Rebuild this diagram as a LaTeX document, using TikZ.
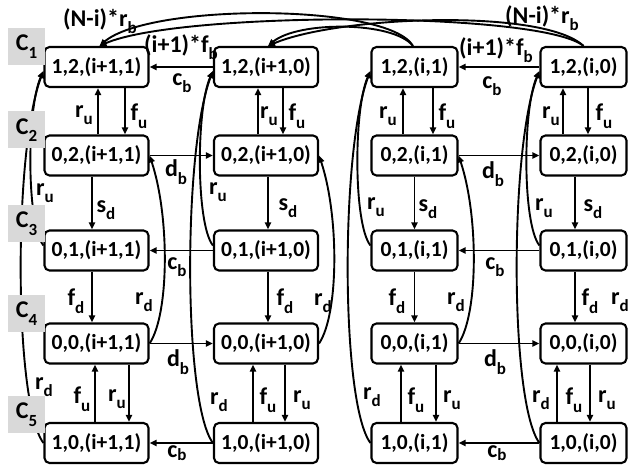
\documentclass[tikz,border=0pt]{standalone}
\usepackage{fontspec}
\setmainfont{Carlito}
\usetikzlibrary{arrows.meta,calc}
\definecolor{cgray}{HTML}{D9D9D9}
\newcommand\lsub[2]{#1\raisebox{-0.32em}{\fontsize{17}{17}\selectfont #2}}
\newcommand\lsubs[2]{#1\raisebox{-0.12em}{\fontsize{17}{17}\selectfont #2}}
\begin{document}
\begin{tikzpicture}[x=1pt,y=-1pt,
 st/.style={draw, line width=2.1pt, rounded corners=5pt, fill=white, minimum height=40pt, inner sep=0pt, font=\fontsize{21.5}{21.5}\selectfont\bfseries},
 wa/.style={st, minimum width=104pt},
 wb/.style={st, minimum width=86pt},
 arr/.style={line width=1.9pt, -{Triangle[length=7pt,width=6pt]}},
 lab/.style={inner sep=0pt, font=\fontsize{24}{24}\selectfont\bfseries},
 cbox/.style={fill=cgray, minimum size=37pt, inner sep=0pt, font=\fontsize{24}{24}\selectfont\bfseries}]
\useasboundingbox (0,0) rectangle (628,465);

% states
\node[wa] (a1) at (96.5,67) {1,2,(i+1,1)};
\node[wa] (a2) at (96.5,155.5) {0,2,(i+1,1)};
\node[wa] (a3) at (96.5,250.5) {0,1,(i+1,1)};
\node[wa] (a4) at (96.5,343.5) {0,0,(i+1,1)};
\node[wa] (a5) at (96.5,443) {1,0,(i+1,1)};
\node[wa] (b1) at (266,67) {1,2,(i+1,0)};
\node[wa] (b2) at (266,155.5) {0,2,(i+1,0)};
\node[wa] (b3) at (266,250.5) {0,1,(i+1,0)};
\node[wa] (b4) at (266,343.5) {0,0,(i+1,0)};
\node[wa] (b5) at (266,443) {1,0,(i+1,0)};
\node[wb] (c1) at (414.5,67) {1,2,(i,1)};
\node[wb] (c2) at (414.5,155.5) {0,2,(i,1)};
\node[wb] (c3) at (414.5,250.5) {0,1,(i,1)};
\node[wb] (c4) at (414.5,343.5) {0,0,(i,1)};
\node[wb] (c5) at (414.5,443) {1,0,(i,1)};
\node[wb] (d1) at (583.5,67) {1,2,(i,0)};
\node[wb] (d2) at (583.5,155.5) {0,2,(i,0)};
\node[wb] (d3) at (583.5,250.5) {0,1,(i,0)};
\node[wb] (d4) at (583.5,343.5) {0,0,(i,0)};
\node[wb] (d5) at (583.5,443) {1,0,(i,0)};

% vertical arrows, column a
\draw[arr] ([xshift=1.5pt]a2.north) -- ([xshift=1.5pt]a1.south);
\draw[arr] ([xshift=28.5pt]a1.south) -- ([xshift=28.5pt]a2.north);
\draw[arr] ([xshift=-4.5pt]a2.south) -- ([xshift=-4.5pt]a3.north);
\draw[arr] ([xshift=-4.5pt]a3.south) -- ([xshift=-4.5pt]a4.north);
\draw[arr] ([xshift=-1.5pt]a5.north) -- ([xshift=-1.5pt]a4.south);
\draw[arr] ([xshift=32.5pt]a4.south) -- ([xshift=32.5pt]a5.north);
% column b
\draw[arr] ([xshift=-8pt]b2.north) -- ([xshift=-8pt]b1.south);
\draw[arr] ([xshift=17pt]b1.south) -- ([xshift=17pt]b2.north);
\draw[arr] ([xshift=2pt]b2.south) -- ([xshift=2pt]b3.north);
\draw[arr] ([xshift=2pt]b3.south) -- ([xshift=2pt]b4.north);
\draw[arr] ([xshift=-13pt]b5.north) -- ([xshift=-13pt]b4.south);
\draw[arr] ([xshift=19pt]b4.south) -- ([xshift=19pt]b5.north);
% column c
\draw[arr] ([xshift=-11.5pt]c2.north) -- ([xshift=-11.5pt]c1.south);
\draw[arr] ([xshift=18.5pt]c1.south) -- ([xshift=18.5pt]c2.north);
\draw[arr] (c2.south) -- (c3.north);
\draw[arr] (c3.south) -- (c4.north);
\draw[arr] ([xshift=-13.5pt]c5.north) -- ([xshift=-13.5pt]c4.south);
\draw[arr] ([xshift=21.5pt]c4.south) -- ([xshift=21.5pt]c5.north);
% column d
\draw[arr] ([xshift=-20.5pt]d2.north) -- ([xshift=-20.5pt]d1.south);
\draw[arr] ([xshift=4.5pt]d1.south) -- ([xshift=4.5pt]d2.north);
\draw[arr] ([xshift=-8.5pt]d2.south) -- ([xshift=-8.5pt]d3.north);
\draw[arr] ([xshift=-8.5pt]d3.south) -- ([xshift=-8.5pt]d4.north);
\draw[arr] ([xshift=-26.5pt]d5.north) -- ([xshift=-26.5pt]d4.south);
\draw[arr] ([xshift=6.5pt]d4.south) -- ([xshift=6.5pt]d5.north);

% horizontal arrows
\draw[arr] (b1.west) -- (a1.east);
\draw[arr] (a2.east) -- (b2.west);
\draw[arr] (b3.west) -- (a3.east);
\draw[arr] (a4.east) -- (b4.west);
\draw[arr] (b5.west) -- (a5.east);
\draw[arr] (d1.west) -- (c1.east);
\draw[arr] (c2.east) -- (d2.west);
\draw[arr] (d3.west) -- (c3.east);
\draw[arr] (c4.east) -- (d4.west);
\draw[arr] (d5.west) -- (c5.east);

% left curves (r_u, r_d) into row 1
\foreach \n in {a,b,c,d}{
  \draw[arr] ($(\n3.west)+(0,-5)$) .. controls +(-17,-21) and +(-17,38) .. ($(\n1.west)+(0,4)$);
  \draw[arr] (\n5.west) .. controls +(-30,-40) and +(-30,78) .. ($(\n1.west)+(0,4)$);
}
% right curves r_d
\foreach \n in {a,b,c}{
  \draw[arr] (\n4.east) .. controls +(20,-30) and +(20,60) .. (\n2.east);
}

% top arcs
\draw[arr] ($(c1.north)+(-1.5,0)$) .. controls +(-25,-43) and +(50,-43) .. ($(a1.north)+(3,0)$);
\draw[arr] (d1.north) .. controls +(-43,-35) and +(80,-35) .. ($(a1.north)+(3,0)$);
\draw[arr] ($(c1.north)+(-1.5,0)$) .. controls +(-20,-25) and +(30,-25) .. ($(b1.north)+(2,0)$);
\draw[arr] (d1.north) .. controls +(-40,-38) and +(70,-30) .. ($(b1.north)+(2,0)$);

% labels top
\node[lab] (l1) at (100,21) {(N-i)*\lsub{r}{b}};
\node[lab] (l2) at (542,18) {(N-i)*\lsub{r}{b}};
\node[lab] (l3) at (181,47) {(i+1)*\lsub{f}{b}};
\node[lab] (l4) at (496,50) {(i+1)*\lsub{f}{b}};
% horizontal labels
\node[lab] (h1) at (182,83) {\lsub{c}{b}};
\node[lab] (h2) at (176,172) {\lsub{d}{b}};
\node[lab] (h3) at (177,267) {\lsub{c}{b}};
\node[lab] (h4) at (178,362) {\lsub{d}{b}};
\node[lab] (h5) at (177,453) {\lsubs{c}{b}};
\node[lab] (h6) at (492,86) {\lsub{c}{b}};
\node[lab] (h7) at (493,174) {\lsub{d}{b}};
\node[lab] (h8) at (495,267) {\lsub{c}{b}};
\node[lab] (h9) at (495,362) {\lsub{d}{b}};
\node[lab] (h10) at (497,453) {\lsubs{c}{b}};
% column a labels
\node[lab] (va1) at (84,115) {\lsub{r}{u}};
\node[lab] (va2) at (139,116) {\lsub{f}{u}};
\node[lab] (va3) at (106,210) {\lsub{s}{d}};
\node[lab] (va4) at (76,301) {\lsub{f}{d}};
\node[lab] (va5) at (82,399) {\lsub{f}{u}};
\node[lab] (va6) at (117,399) {\lsub{r}{u}};
\node[lab] (va7) at (45,193) {\lsub{r}{u}};
\node[lab] (va8) at (44,387) {\lsub{r}{d}};
\node[lab] (va9) at (144,302) {\lsub{r}{d}};
% column b labels
\node[lab] (vb1) at (269,116) {\lsub{r}{u}};
\node[lab] (vb2) at (297,116) {\lsub{f}{u}};
\node[lab] (vb3) at (288,208) {\lsub{s}{d}};
\node[lab] (vb4) at (285,301) {\lsub{f}{d}};
\node[lab] (vb5) at (268,400) {\lsub{f}{u}};
\node[lab] (vb6) at (302,400) {\lsub{r}{u}};
\node[lab] (vb7) at (218,192) {\lsub{r}{u}};
\node[lab] (vb8) at (219,402) {\lsub{r}{d}};
\node[lab] (vb9) at (323,303) {\lsub{r}{d}};
% column c labels
\node[lab] (vc1) at (388,116) {\lsub{r}{u}};
\node[lab] (vc2) at (447,116) {\lsub{f}{u}};
\node[lab] (vc3) at (428,209) {\lsub{s}{d}};
\node[lab] (vc4) at (397,301) {\lsub{f}{d}};
\node[lab] (vc5) at (416,400) {\lsub{f}{u}};
\node[lab] (vc6) at (452,400) {\lsub{r}{u}};
\node[lab] (vc7) at (376,207) {\lsub{r}{u}};
\node[lab] (vc8) at (372,397) {\lsub{r}{d}};
\node[lab] (vc9) at (456,302) {\lsub{r}{d}};
% column d labels
\node[lab] (vd1) at (551,116) {\lsub{r}{u}};
\node[lab] (vd2) at (604,116) {\lsub{f}{u}};
\node[lab] (vd3) at (593,209) {\lsub{s}{d}};
\node[lab] (vd4) at (590,301) {\lsub{f}{d}};
\node[lab] (vd5) at (574,400) {\lsub{f}{u}};
\node[lab] (vd6) at (607,400) {\lsub{r}{u}};
\node[lab] (vd7) at (544,208) {\lsub{r}{u}};
\node[lab] (vd8) at (541,400) {\lsub{r}{d}};
\node[lab] (vd9) at (620,302) {\lsub{r}{d}};

% C labels
\node[cbox] (k1) at (26.5,46.5) {\lsub{C}{1}};
\node[cbox] (k2) at (26.5,130) {\lsub{C}{2}};
\node[cbox] (k3) at (26.5,223.5) {\lsub{C}{3}};
\node[cbox] (k4) at (26.5,313.5) {\lsub{C}{4}};
\node[cbox] (k5) at (26.5,414.5) {\lsub{C}{5}};
\end{tikzpicture}
\end{document}
